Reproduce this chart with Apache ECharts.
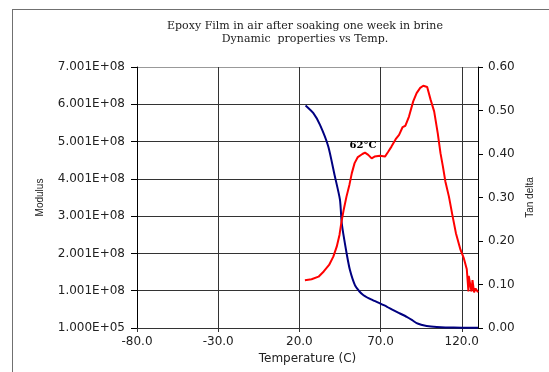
<!DOCTYPE html>
<html>
<head>
<meta charset="utf-8">
<script src="https://cdn.jsdelivr.net/npm/echarts@6/dist/echarts.min.js"></script>
<style>
  body { margin: 0; background: #fff; }
  #wrap { position: relative; width: 549px; height: 372px; overflow: hidden; }
  #main { width: 549px; height: 372px; }
  #frame { position: absolute; left: 12px; top: 9px; width: 600px; height: 400px;
           border-left: 1px solid #707070; border-top: 1px solid #707070; pointer-events: none; }
</style>
</head>
<body>
<div id="wrap">
  <div id="main"></div>
  <div id="frame"></div>
</div>
<script>
// values
var modTemp = [23.8, 28.5, 32.7, 37.8, 41.7, 45.0, 46.0, 47.0, 49.1, 51.1, 54.2, 57.0, 59.5, 64.5,
               69.6, 74.0, 77.8, 82.0, 86.1, 89.5, 92.2, 95.0, 98.4, 104.6, 110, 120, 130];
var modulus = [5.97e8, 5.77e8, 5.45e8, 4.87e8, 4.10e8, 3.44e8, 2.85e8, 2.54e8, 2.00e8, 1.56e8, 1.15e8,
               0.98e8, 0.88e8, 0.76e8, 0.66e8, 0.57e8, 0.48e8, 0.39e8, 0.30e8, 0.21e8, 0.13e8,
               0.09e8, 0.055e8, 0.027e8, 0.015e8, 0.01e8, 0.01e8];

var tanTemp = [23.4, 27.5, 31.8, 35.0, 38.3, 40.9, 43.0, 44.7, 45.8, 47.3, 49.0, 50.8, 52.3, 54.0,
               56.0, 58.8, 60.4, 62.4, 64.5, 66.3, 69.6, 72.7, 74.5, 76.7, 79.3, 81.4, 83.6, 85.3,
               87.5, 90.1, 92.2, 94.4, 96.3, 98.7, 100.8, 103.0, 105.2, 106.9, 108.4, 109.9, 112.1,
               114.2, 116.4, 119.2, 121.3, 123.1, 124.1, 124.3, 125.2, 126.0, 126.6, 127.6, 128.5, 130.0];
var tanDelta = [0.110, 0.112, 0.118, 0.130, 0.145, 0.164, 0.187, 0.214, 0.241, 0.272, 0.302, 0.329,
                0.356, 0.379, 0.393, 0.400, 0.403, 0.398, 0.390, 0.394, 0.396, 0.394, 0.404, 0.417,
                0.434, 0.444, 0.462, 0.465, 0.486, 0.521, 0.540, 0.552, 0.557, 0.554, 0.525, 0.498,
                0.448, 0.402, 0.371, 0.337, 0.302, 0.260, 0.218, 0.180, 0.160, 0.135, 0.084, 0.120,
                0.100, 0.084, 0.110, 0.082, 0.091, 0.082];

var xTicks = [-80, 130, 50];          // min, max, step
var modTicks = [1e5, 7.001e8, 1e8];
var tanTicks = [0, 0.6, 0.1];
var peakNote = { temp: 59.2, tan: 0.403, text: '62°C' };

function pairs(xs, ys) {
  var out = [];
  for (var i = 0; i < xs.length; i++) out.push([xs[i], ys[i]]);
  return out;
}

function sciLabel(v) {
  if (v <= 0) return '0';
  var e = Math.floor(Math.log10(v) + 1e-9);
  var m = v / Math.pow(10, e);
  return m.toFixed(3) + 'E+' + (e < 10 ? '0' : '') + e;
}

var sans = 'DejaVu Sans';
var myChart = echarts.init(document.getElementById('main'));

var option = {
  animation: false,
  backgroundColor: '#fff',
  title: {
    text: 'Epoxy Film in air after soaking one week in brine\nDynamic  properties vs Temp.',
    left: 305,
    top: 20,
    padding: 0,
    textAlign: 'center',
    textStyle: {
      fontFamily: 'DejaVu Serif',
      fontSize: 11,
      fontWeight: 'normal',
      color: '#222',
      lineHeight: 13
    }
  },
  grid: { left: 137, right: 71, top: 67, bottom: 44 },
  xAxis: {
    type: 'value',
    min: xTicks[0], max: xTicks[1], interval: xTicks[2],
    name: 'Temperature (C)',
    nameLocation: 'middle',
    nameGap: 23,
    nameTextStyle: { fontFamily: sans, fontSize: 12, color: '#222' },
    axisLine: { onZero: false, lineStyle: { color: '#333', width: 1 } },
    axisTick: { length: 4, lineStyle: { color: '#333' } },
    axisLabel: {
      fontFamily: sans, fontSize: 12, color: '#222', margin: 8, showMaxLabel: false,
      formatter: function (v) { return v.toFixed(1); }
    },
    splitLine: { show: true, lineStyle: { color: '#333', width: 1 } }
  },
  yAxis: [{
    type: 'value',
    position: 'left',
    min: modTicks[0], max: modTicks[1], interval: modTicks[2],
    name: 'Modulus',
    nameLocation: 'middle',
    nameRotate: 90,
    nameGap: 92,
    nameTextStyle: { fontFamily: 'Liberation Sans', fontSize: 10, color: '#222' },
    axisLine: { show: true, onZero: false, lineStyle: { color: '#000', width: 1 } },
    axisTick: { show: true, length: 6, lineStyle: { color: '#000' } },
    axisLabel: { fontFamily: sans, fontSize: 12, color: '#222', margin: 12, formatter: sciLabel },
    splitLine: { show: true, lineStyle: { color: ['#333', '#333', '#333', '#333', '#333', '#333', '#333', '#999'], width: 1 } }
  }, {
    type: 'value',
    position: 'right',
    min: tanTicks[0], max: tanTicks[1], interval: tanTicks[2],
    name: 'Tan delta',
    nameLocation: 'middle',
    nameRotate: 90,
    nameGap: 47,
    nameTextStyle: { fontFamily: 'Liberation Sans', fontSize: 10, color: '#222' },
    axisLine: { show: true, onZero: false, lineStyle: { color: '#000', width: 1 } },
    axisTick: { show: true, length: 5, lineStyle: { color: '#000' } },
    axisLabel: {
      fontFamily: sans, fontSize: 12, color: '#222', margin: 10,
      formatter: function (v) { return v.toFixed(2); }
    },
    splitLine: { show: false }
  }],
  series: [{
    name: 'Modulus',
    type: 'line',
    yAxisIndex: 0,
    data: pairs(modTemp, modulus),
    showSymbol: false,
    smooth: 0.2,
    lineStyle: { color: '#000080', width: 2 },
    itemStyle: { color: '#000080' }
  }, {
    name: 'Tan delta',
    type: 'line',
    yAxisIndex: 1,
    data: pairs(tanTemp, tanDelta),
    showSymbol: false,
    lineStyle: { color: '#ff0000', width: 2 },
    itemStyle: { color: '#ff0000' },
    markPoint: {
      symbolSize: 0,
      data: [{ coord: [peakNote.temp, peakNote.tan] }],
      label: {
        show: true,
        position: 'top',
        distance: 2,
        formatter: peakNote.text,
        fontFamily: 'DejaVu Serif',
        fontWeight: 'bold',
        fontSize: 10,
        color: '#000'
      }
    }
  }]
};

myChart.setOption(option);
</script>
</body>
</html>
